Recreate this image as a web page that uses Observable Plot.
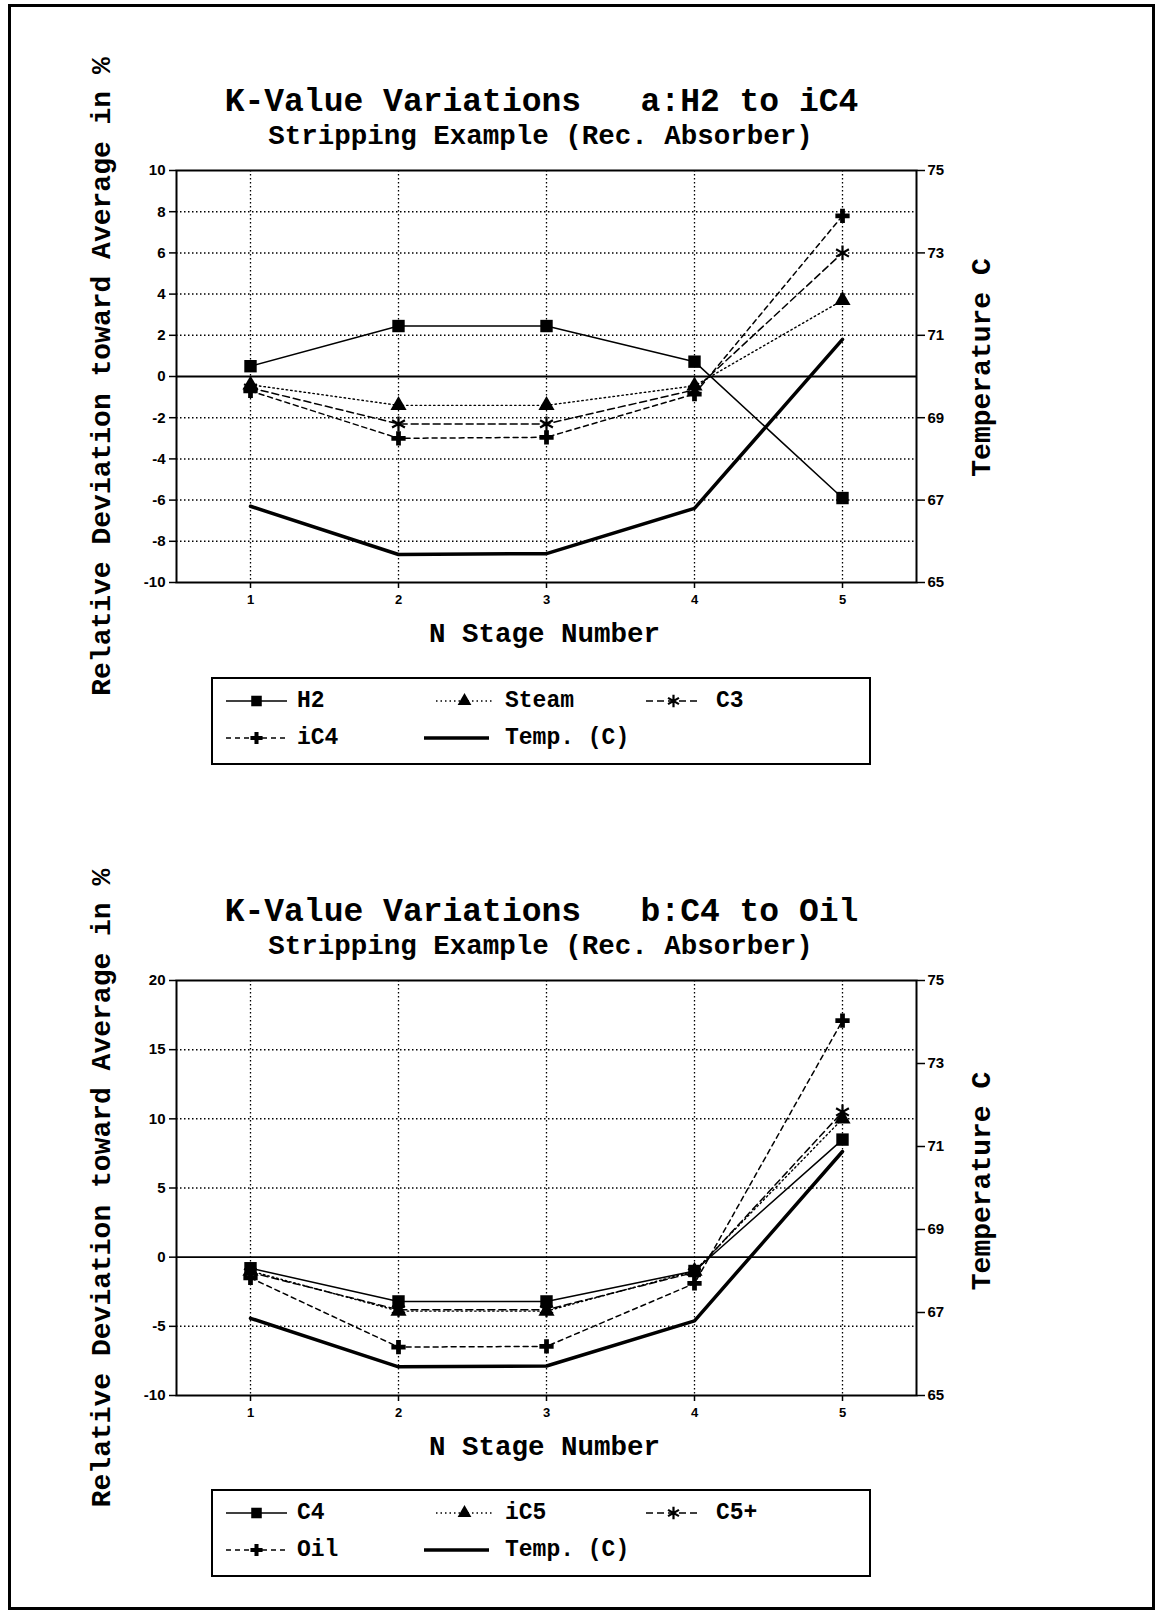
<!DOCTYPE html>
<html>
<head>
<meta charset="utf-8">
<script src="https://cdn.jsdelivr.net/npm/d3@7"></script>
<script src="https://cdn.jsdelivr.net/npm/@observablehq/plot@0.6"></script>
<style>
  body { margin: 0; background: #fff; }
  #page { position: relative; width: 1156px; height: 1611px; overflow: hidden; background: #fff; }
  #border { position: absolute; left: 8px; top: 4px; width: 1147px; height: 1606px; border: 3px solid #000; box-sizing: border-box; }
  .chart { position: absolute; left: 0; width: 1156px; }
  .legend { position: absolute; left: 211px; width: 660px; height: 88px; border: 2px solid #000; box-sizing: border-box; background: #fff; }
  .legend svg { position: absolute; left: -2px; top: -2px; }
</style>
</head>
<body>
<div id="page">
  <div id="border"></div>
  <div id="chartA" class="chart" style="top:0px"></div>
  <div id="chartB" class="chart" style="top:800px"></div>
  <div id="legendA" class="legend" style="top:677px"></div>
  <div id="legendB" class="legend" style="top:1489px"></div>
</div>
<script>
// ---------- data ----------
const stages = [1, 2, 3, 4, 5];

// chart a: H2 to iC4 (relative deviation in %)
const aH2    = [0.5, 2.45, 2.45, 0.72, -5.9];
const aSteam = [-0.4, -1.4, -1.4, -0.45, 3.7];
const aC3    = [-0.55, -2.3, -2.3, -0.65, 6.0];
const aIC4   = [-0.7, -3.0, -2.95, -0.85, 7.8];
const aTemp  = [66.85, 65.68, 65.7, 66.8, 70.9];   // temperature C

// chart b: C4 to Oil (relative deviation in %)
const bC4    = [-0.8, -3.2, -3.2, -1.0, 8.5];
const bIC5   = [-1.0, -3.9, -3.9, -1.0, 10.0];
const bC5p   = [-1.1, -3.8, -3.8, -1.1, 10.5];
const bOil   = [-1.5, -6.5, -6.45, -1.9, 17.1];
const bTemp  = [66.86, 65.69, 65.71, 66.8, 70.88]; // temperature C

// tick labels
const yTicksA = [-10, -8, -6, -4, -2, 0, 2, 4, 6, 8, 10];
const gridA   = [-8, -6, -4, -2, 2, 4, 6, 8];
const yTicksB = [-10, -5, 0, 5, 10, 15, 20];
const gridB   = [-5, 5, 10, 15];
const tTicks  = [65, 67, 69, 71, 73, 75];

const namesA = ["H2", "Steam", "C3", "iC4", "Temp. (C)"];
const namesB = ["C4", "iC5", "C5+", "Oil", "Temp. (C)"];

const titleA = "K-Value Variations   a:H2 to iC4";
const titleB = "K-Value Variations   b:C4 to Oil";
const subtitle = "Stripping Example (Rec. Absorber)";
const yLabel = "Relative Deviation toward Average in %";
const xLabel = "N Stage Number";
const tLabel = "Temperature C";

// ---------- styles ----------
const MONO = "Liberation Mono, Courier New, monospace";
const SANS = "Liberation Sans, Arial, sans-serif";
const styles = [
  {stroke: 1.5, dash: null, symbol: "square", r: 7, fill: "black"},
  {stroke: 1.4, dash: "1.5,3", symbol: "triangle", r: 6, fill: "black"},
  {stroke: 1.5, dash: "7,4", symbol: "asterisk", r: 7, fill: "none"},
  {stroke: 1.5, dash: "5,4", symbol: "cross", r: 6, fill: "black"}
];

function makeChart(opts) {
  const {series, temp, toY, fromY, yDomain, yTicks, grid, title, height, marginTop, marginBottom, tLabelDy} = opts;
  const marks = [
    Plot.ruleY(grid, {stroke: "black", strokeWidth: 1.5, strokeDasharray: "1.5,2.5"}),
    Plot.ruleX(stages, {stroke: "black", strokeWidth: 1.3, strokeDasharray: "1.5,2.5"}),
    Plot.ruleY([0], {stroke: "black", strokeWidth: 1.8}),
    Plot.frame({stroke: "black", strokeWidth: 2}),
    Plot.axisY(yTicks, {anchor: "left", tickSize: 7, tickPadding: 4, strokeWidth: 1.5, tickFormat: d => String(d)}),
    Plot.axisY(tTicks.map(toY), {anchor: "right", tickSize: 8, tickPadding: 3, strokeWidth: 1.5, tickFormat: d => String(Math.round(fromY(d)))}),
    Plot.axisX(stages, {anchor: "bottom", tickSize: 6, tickPadding: 6, strokeWidth: 1.5, tickFormat: d => String(d)})
  ];
  // temperature line (right axis)
  marks.push(Plot.line(stages, {x: d => d, y: temp.map(toY), stroke: "black", strokeWidth: 3.5}));
  series.forEach((vals, i) => {
    const s = styles[i];
    marks.push(Plot.line(stages, {x: d => d, y: vals, stroke: "black", strokeWidth: s.stroke, strokeDasharray: s.dash}));
  });
  series.forEach((vals, i) => {
    const s = styles[i];
    marks.push(Plot.dot(stages, {x: d => d, y: vals, symbol: s.symbol, r: s.r,
      fill: s.fill, stroke: s.fill === "none" ? "black" : "none", strokeWidth: 2.2}));
  });
  // titles and axis labels
  marks.push(Plot.text([title], {frameAnchor: "top", textAnchor: "middle", dx: -5, dy: -70, text: d => d, fontFamily: MONO, fontSize: 33, fontWeight: "bold", lineAnchor: "middle"}));
  marks.push(Plot.text([subtitle], {frameAnchor: "top", textAnchor: "middle", dx: -6, dy: -35, text: d => d, fontFamily: MONO, fontSize: 27.5, fontWeight: "bold", lineAnchor: "middle"}));
  marks.push(Plot.text([xLabel], {frameAnchor: "bottom", textAnchor: "middle", dx: -2, dy: 51, text: d => d, fontFamily: MONO, fontSize: 27.5, fontWeight: "bold", lineAnchor: "middle"}));
  marks.push(Plot.text([yLabel], {frameAnchor: "left", textAnchor: "middle", dx: -75, dy: 0, rotate: -90, text: d => d, fontFamily: MONO, fontSize: 28, fontWeight: "bold", lineAnchor: "middle"}));
  marks.push(Plot.text([tLabel], {frameAnchor: "right", textAnchor: "middle", dx: 65, dy: tLabelDy, rotate: -90, text: d => d, fontFamily: MONO, fontSize: 28, fontWeight: "bold", lineAnchor: "middle"}));

  const svg = Plot.plot({
    width: 1156, height, marginLeft: 176, marginRight: 240, marginTop, marginBottom,
    x: {domain: [0.5, 5.5], axis: null},
    y: {domain: yDomain, axis: null},
    style: {fontFamily: SANS, fontWeight: "bold", background: "transparent", overflow: "visible", color: "black"},
    marks
  });
  // enlarge the tick labels of the axes
  d3.select(svg).selectAll("g[aria-label]").each(function () {
    const lab = this.getAttribute("aria-label") || "";
    if (lab.includes("tick label")) {
      const size = lab.startsWith("x") ? "13px" : "15px";
      d3.select(this).attr("font-size", size).attr("font-weight", "bold");
      d3.select(this).selectAll("text").style("font-size", size).style("font-weight", "bold");
    }
  });
  return svg;
}

const toYa = t => (t - 70) * 2, fromYa = y => y / 2 + 70;
const toYb = t => (t - 65) * 3 - 10, fromYb = y => (y + 10) / 3 + 65;

document.getElementById("chartA").append(makeChart({
  series: [aH2, aSteam, aC3, aIC4], temp: aTemp, toY: toYa, fromY: fromYa,
  yDomain: [-10, 10], yTicks: yTicksA, grid: gridA, title: titleA,
  height: 660, marginTop: 170, marginBottom: 78, tLabelDy: -9
}));
document.getElementById("chartB").append(makeChart({
  series: [bC4, bIC5, bC5p, bOil], temp: bTemp, toY: toYb, fromY: fromYb,
  yDomain: [-10, 20], yTicks: yTicksB, grid: gridB, title: titleB,
  height: 660, marginTop: 180, marginBottom: 65, tLabelDy: -7
}));

// ---------- legends ----------
function makeLegend(el, names) {
  const svg = d3.select(el).append("svg").attr("width", 660).attr("height", 88);
  const cols = [{s0: 15, s1: 76, t: 86}, {s0: 225, s1: 282, t: 294}, {s0: 435, s1: 490, t: 505}];
  const rows = [24, 61];
  const pos = [[0, 0], [1, 0], [2, 0], [0, 1], [1, 1]];
  names.forEach((name, i) => {
    const c = cols[pos[i][0]], y = rows[pos[i][1]];
    if (i < 4) {
      const s = styles[i];
      svg.append("line").attr("x1", c.s0).attr("x2", c.s1).attr("y1", y).attr("y2", y)
        .attr("stroke", "black").attr("stroke-width", s.stroke).attr("stroke-dasharray", s.dash);
      const sym = {square: d3.symbolSquare, triangle: d3.symbolTriangle, asterisk: d3.symbolAsterisk, cross: d3.symbolCross}[s.symbol];
      const rr = s.r * 0.85;
      svg.append("path").attr("d", d3.symbol(sym, Math.PI * rr * rr)())
        .attr("transform", `translate(${(c.s0 + c.s1) / 2},${y})`)
        .attr("fill", s.fill).attr("stroke", s.fill === "none" ? "black" : "none").attr("stroke-width", 2.2);
    } else {
      svg.append("line").attr("x1", c.s0 - 12).attr("x2", c.s1 - 4).attr("y1", y).attr("y2", y)
        .attr("stroke", "black").attr("stroke-width", 3.5);
    }
    svg.append("text").attr("x", c.t).attr("y", y).attr("dominant-baseline", "central")
      .attr("font-family", MONO).attr("font-size", 23).attr("font-weight", "bold").text(name);
  });
}
makeLegend(document.getElementById("legendA"), namesA);
makeLegend(document.getElementById("legendB"), namesB);
</script>
</body>
</html>
